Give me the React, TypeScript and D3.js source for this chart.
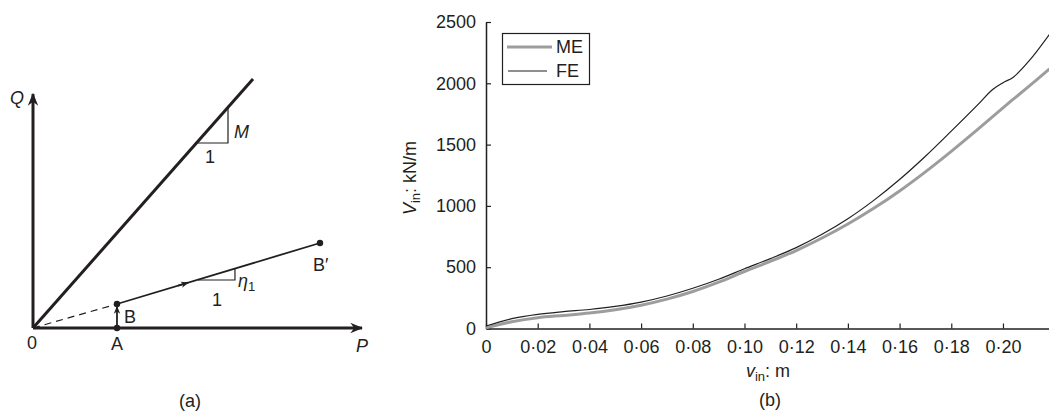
import React, { useEffect, useRef } from 'react';
import * as d3 from 'd3';

// ----- panel (b) data -----
const meDisp = [0, 0.01, 0.02, 0.03, 0.04, 0.05, 0.06, 0.07, 0.08, 0.09, 0.1, 0.11, 0.12, 0.13, 0.14, 0.15, 0.16, 0.17, 0.18, 0.19, 0.2, 0.21, 0.218];
const meForce = [5, 55, 88, 107, 126, 153, 190, 240, 302, 378, 465, 548, 636, 738, 852, 980, 1122, 1278, 1445, 1620, 1800, 1975, 2117];

const feDisp = [0, 0.01, 0.02, 0.03, 0.04, 0.05, 0.06, 0.07, 0.08, 0.09, 0.1, 0.11, 0.12, 0.13, 0.14, 0.15, 0.16, 0.17, 0.18, 0.19, 0.196, 0.2, 0.204, 0.21, 0.218];
const feForce = [20, 80, 115, 137, 155, 180, 215, 265, 328, 402, 487, 570, 660, 768, 895, 1045, 1215, 1405, 1610, 1820, 1950, 2005, 2050, 2180, 2400];

const xTicks = [0, 0.02, 0.04, 0.06, 0.08, 0.1, 0.12, 0.14, 0.16, 0.18, 0.2];
const yTicks = [0, 500, 1000, 1500, 2000, 2500];
const seriesNames = ['ME', 'FE'];

// ----- panel (a) diagram points, in P/Q units -----
const pointA = [2.545, 0];
const pointB = [2.545, 0.727];
const pointB2 = [8.697, 2.576];
const lineMEnd = [6.667, 7.545];
const triM = [[5.0, 5.606], [5.909, 5.606], [5.909, 6.667]];
const triEta = [[5.0, 1.455], [6.12, 1.455], [6.12, 1.788]];

const ink = '#231f20';
const font = '"Liberation Sans", Arial, sans-serif';
const fs = 18;

const App = () => {
  const svgRef = useRef();

  useEffect(() => {
    const width = 1049;
    const height = 412;
    const svg = d3.select(svgRef.current);
    svg.selectAll('*').remove();
    svg.attr('width', width).attr('height', height);

    const defs = svg.append('defs');
    defs
      .append('marker')
      .attr('id', 'bigArrow')
      .attr('viewBox', '0 0 10 10')
      .attr('refX', 9)
      .attr('refY', 5)
      .attr('markerUnits', 'userSpaceOnUse')
      .attr('markerWidth', 13)
      .attr('markerHeight', 13)
      .attr('orient', 'auto')
      .append('path')
      .attr('d', 'M0,1 L10,5 L0,9 L3,5 Z')
      .attr('fill', ink);
    defs
      .append('marker')
      .attr('id', 'smallArrow')
      .attr('viewBox', '0 0 10 10')
      .attr('refX', 9)
      .attr('refY', 5)
      .attr('markerUnits', 'userSpaceOnUse')
      .attr('markerWidth', 8)
      .attr('markerHeight', 8)
      .attr('orient', 'auto')
      .append('path')
      .attr('d', 'M0,1 L10,5 L0,9 L3,5 Z')
      .attr('fill', ink);

    // ================= panel (a) =================
    const px = d3.scaleLinear().domain([0, 10]).range([33, 363]);
    const py = d3.scaleLinear().domain([0, 10]).range([328, -2]);
    const a = svg.append('g');
    const line = d3.line().x((d) => px(d[0])).y((d) => py(d[1]));

    // axes
    a.append('path')
      .attr('d', line([[0, 0], [0, 7.09]]))
      .attr('stroke', ink)
      .attr('stroke-width', 3)
      .attr('fill', 'none')
      .attr('marker-end', 'url(#bigArrow)');
    a.append('path')
      .attr('d', line([[0, 0], [9.97, 0]]))
      .attr('stroke', ink)
      .attr('stroke-width', 3)
      .attr('fill', 'none')
      .attr('marker-end', 'url(#bigArrow)');

    // M line
    a.append('path')
      .attr('d', line([[0, 0], lineMEnd]))
      .attr('stroke', ink)
      .attr('stroke-width', 3)
      .attr('fill', 'none');
    a.append('path')
      .attr('d', line(triM))
      .attr('stroke', ink)
      .attr('stroke-width', 1.2)
      .attr('fill', 'none');

    // dashed O-B
    a.append('path')
      .attr('d', line([[0, 0], pointB]))
      .attr('stroke', ink)
      .attr('stroke-width', 1.2)
      .attr('stroke-dasharray', '7,5')
      .attr('fill', 'none');

    // B-B' line with arrow in the middle
    a.append('path')
      .attr('d', line([pointB, pointB2]))
      .attr('stroke', ink)
      .attr('stroke-width', 1.8)
      .attr('fill', 'none');
    const slope = (pointB2[1] - pointB[1]) / (pointB2[0] - pointB[0]);
    const midP = 4.7;
    a.append('path')
      .attr('d', line([[midP - 0.3, pointB[1] + slope * (midP - 0.3 - pointB[0])], [midP, pointB[1] + slope * (midP - pointB[0])]]))
      .attr('stroke', ink)
      .attr('stroke-width', 1.8)
      .attr('fill', 'none')
      .attr('marker-end', 'url(#smallArrow)');
    a.append('path')
      .attr('d', line(triEta))
      .attr('stroke', ink)
      .attr('stroke-width', 1.2)
      .attr('fill', 'none');

    // A -> B arrow
    a.append('path')
      .attr('d', line([pointA, [pointB[0], pointB[1] - 0.08]]))
      .attr('stroke', ink)
      .attr('stroke-width', 1.8)
      .attr('fill', 'none')
      .attr('marker-end', 'url(#smallArrow)');

    a.selectAll('circle.pt')
      .data([pointA, pointB, pointB2])
      .join('circle')
      .attr('class', 'pt')
      .attr('cx', (d) => px(d[0]))
      .attr('cy', (d) => py(d[1]))
      .attr('r', 3.2)
      .attr('fill', ink);

    const label = (g, x, y, text, opts = {}) =>
      g
        .append('text')
        .attr('x', x)
        .attr('y', y)
        .attr('text-anchor', opts.anchor || 'middle')
        .attr('font-family', font)
        .attr('font-size', opts.size || fs)
        .attr('font-style', opts.italic ? 'italic' : 'normal')
        .attr('fill', ink)
        .text(text);

    label(a, 17, 104, 'Q', { italic: true });
    label(a, 362, 352, 'P', { italic: true });
    label(a, 32, 349, '0');
    label(a, px(pointA[0]), 350, 'A');
    label(a, px(pointB[0]) + 7, 323, 'B', { anchor: 'start' });
    label(a, px(pointB2[0]) - 7, 271, 'B\u2032', { anchor: 'start' });
    label(a, 234, 138, 'M', { italic: true, anchor: 'start' });
    label(a, 210, 163, '1');
    label(a, 217, 306, '1');
    const eta = label(a, 238, 287, '', { anchor: 'start', italic: true });
    eta.append('tspan').text('\u03b7');
    eta.append('tspan').attr('font-style', 'normal').attr('font-size', 13).attr('dy', 4).text('1');
    label(a, 190, 407, '(a)');

    // ================= panel (b) =================
    const x = d3.scaleLinear().domain([0, 0.218]).range([486, 1049.5]);
    const y = d3.scaleLinear().domain([0, 2500]).range([328.5, 22]);
    const b = svg.append('g');

    const xAxis = b
      .append('g')
      .attr('transform', `translate(0,${y(0)})`)
      .call(
        d3
          .axisBottom(x)
          .tickValues(xTicks)
          .tickSizeInner(-5)
          .tickSizeOuter(0)
          .tickPadding(12)
          .tickFormat((d) => (d === 0 ? '0' : d3.format('.2f')(d).replace('.', '\u00b7')))
      );
    const yAxis = b
      .append('g')
      .attr('transform', `translate(${x(0)},0)`)
      .call(
        d3
          .axisLeft(y)
          .tickValues(yTicks)
          .tickSizeInner(-5)
          .tickSizeOuter(0)
          .tickPadding(10)
          .tickFormat(d3.format('d'))
      );
    [xAxis, yAxis].forEach((ax) => {
      ax.select('.domain').attr('stroke', ink).attr('stroke-width', 1.5);
      ax.selectAll('.tick line').attr('stroke', ink).attr('stroke-width', 1.2);
      ax.selectAll('.tick text').attr('font-family', font).attr('font-size', fs).attr('fill', ink);
    });

    const curve = d3
      .line()
      .x((d) => x(d[0]))
      .y((d) => y(d[1]))
      .curve(d3.curveCatmullRom.alpha(0.5));

    b.append('path')
      .datum(d3.zip(meDisp, meForce))
      .attr('d', curve)
      .attr('fill', 'none')
      .attr('stroke', '#9d9d9d')
      .attr('stroke-width', 3);
    b.append('path')
      .datum(d3.zip(feDisp, feForce))
      .attr('d', curve)
      .attr('fill', 'none')
      .attr('stroke', ink)
      .attr('stroke-width', 1.2);

    // legend
    const lg = b.append('g');
    lg.append('rect')
      .attr('x', 502.5)
      .attr('y', 33.5)
      .attr('width', 87)
      .attr('height', 51)
      .attr('fill', '#fff')
      .attr('stroke', ink)
      .attr('stroke-width', 1.2);
    lg.append('line')
      .attr('x1', 507)
      .attr('x2', 552)
      .attr('y1', 47)
      .attr('y2', 47)
      .attr('stroke', '#9d9d9d')
      .attr('stroke-width', 3);
    lg.append('line')
      .attr('x1', 508)
      .attr('x2', 547)
      .attr('y1', 71)
      .attr('y2', 71)
      .attr('stroke', ink)
      .attr('stroke-width', 1.2);
    label(lg, 556, 53, seriesNames[0], { anchor: 'start' });
    label(lg, 556, 77, seriesNames[1], { anchor: 'start' });

    // axis titles
    const xt = label(b, 768, 377, '');
    xt.append('tspan').attr('font-style', 'italic').text('v');
    xt.append('tspan').attr('font-size', 13).attr('dy', 4).text('in');
    xt.append('tspan').attr('dy', -4).text(': m');

    const yt = b
      .append('text')
      .attr('transform', 'translate(416,178) rotate(-90)')
      .attr('text-anchor', 'middle')
      .attr('font-family', font)
      .attr('font-size', fs)
      .attr('fill', ink);
    yt.append('tspan').attr('font-style', 'italic').text('V');
    yt.append('tspan').attr('font-size', 13).attr('dy', 4).text('in');
    yt.append('tspan').attr('dy', -4).text(': kN/m');

    label(b, 770, 406, '(b)');
  }, []);

  return <svg ref={svgRef} style={{ position: 'absolute', left: 0, top: 0, display: 'block' }}></svg>;
};

export default App;
